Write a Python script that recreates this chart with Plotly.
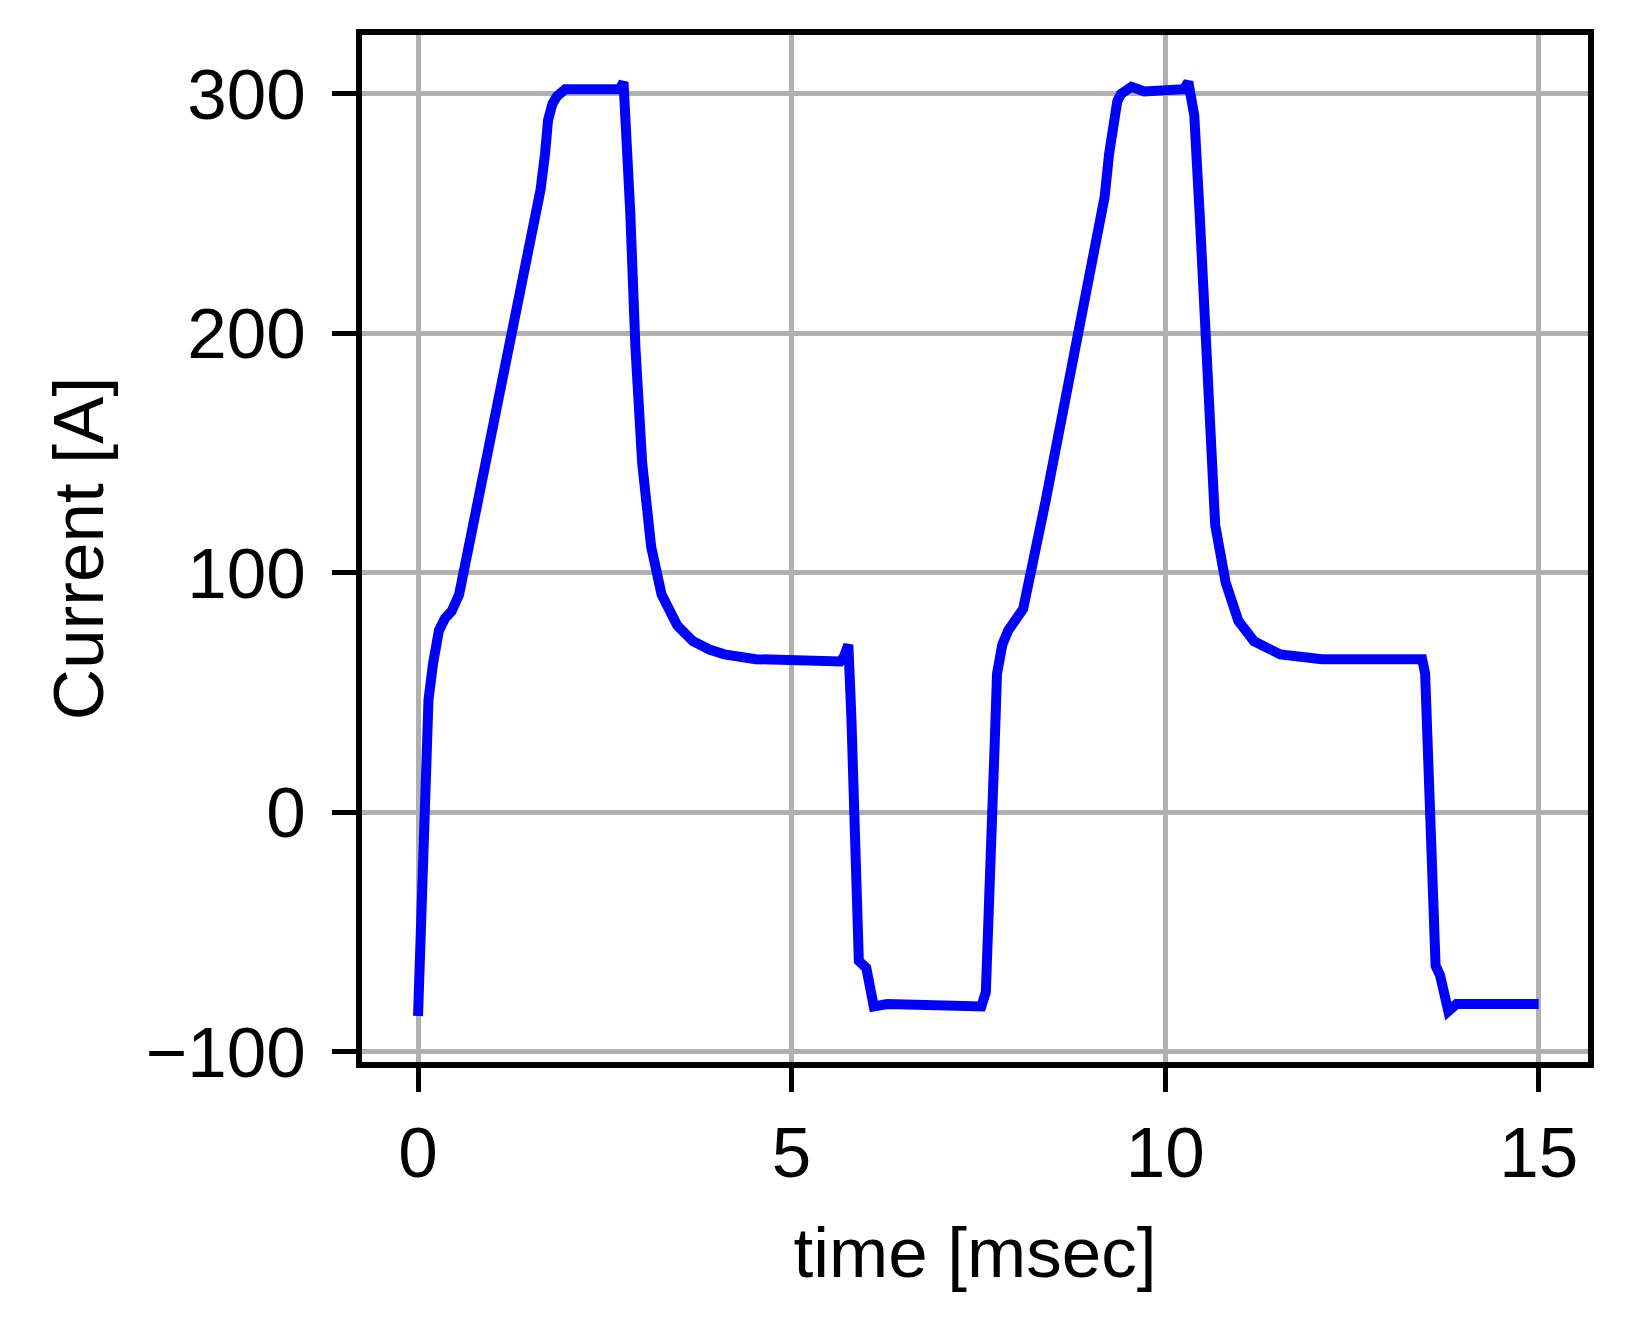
import plotly.graph_objects as go

# time [msec] and current [A]
time_ms = [
    0.00, 0.05, 0.10, 0.14, 0.20, 0.28, 0.36, 0.45, 0.55, 0.80, 1.10, 1.40, 1.64,
    1.70, 1.74, 1.80, 1.86, 1.97, 2.20, 2.45, 2.65, 2.70, 2.75, 2.80, 2.84, 2.91,
    3.00, 3.12, 3.26, 3.47, 3.68, 3.90, 4.10, 4.52, 5.00, 5.50, 5.65, 5.70, 5.76,
    5.80, 5.84, 5.90, 6.00, 6.10, 6.28, 6.80, 7.30, 7.54, 7.60, 7.65, 7.68, 7.72,
    7.75, 7.82, 7.90, 8.00, 8.10, 8.40, 8.80, 9.19, 9.25, 9.30, 9.36, 9.41, 9.55,
    9.72, 10.00, 10.25, 10.31, 10.35, 10.39, 10.46, 10.56, 10.67, 10.81, 10.98,
    11.19, 11.54, 12.10, 12.80, 13.44, 13.48, 13.51, 13.54, 13.58, 13.62, 13.68,
    13.79, 13.90, 14.40, 15.00,
]
current_a = [
    -85, -40, 10, 47, 62, 76, 81, 84, 91, 130, 178, 225, 260,
    275, 289, 296, 299, 302, 302, 302, 301, 302, 305, 280, 251, 194,
    146, 111, 91, 78, 71.5, 68, 66, 64, 64, 64, 63, 65, 70,
    40, -10, -62, -65, -81, -80, -80, -80, -81, -75, -40, -12, 30,
    58, 70, 76, 80, 85, 130, 195, 257, 275, 289, 297, 300, 303,
    301, 302, 302, 305, 300, 291, 251, 177, 120, 96, 80,
    71.5, 66, 64, 64, 64, 58, 25, -12, -45, -64, -68,
    -83, -80, -80, -80,
]

x_ticks = [0, 5, 10, 15]
y_ticks = [-100, 0, 100, 200, 300]

fig = go.Figure()

fig.add_trace(
    go.Scatter(
        x=time_ms,
        y=current_a,
        mode="lines",
        line=dict(color="#0000ff", width=10),
        showlegend=False,
    )
)

axis_style = dict(
    showline=True,
    linecolor="black",
    linewidth=6,
    mirror=True,
    ticks="outside",
    ticklen=24,
    tickwidth=5,
    tickcolor="black",
    showgrid=True,
    gridcolor="#b0b0b0",
    gridwidth=5,
    zeroline=False,
    tickfont=dict(size=71, color="black"),
)

fig.update_layout(
    width=1647,
    height=1318,
    plot_bgcolor="white",
    paper_bgcolor="white",
    # page body adds an 8px offset, so margins are shifted to compensate
    margin=dict(l=354, r=67, t=27, b=264),
    font=dict(family="Liberation Sans, Arial, sans-serif", color="black"),
    xaxis=dict(
        **axis_style,
        range=[-0.75, 15.66],
        tickvals=x_ticks,
        title=dict(text="time [msec]", font=dict(size=71), standoff=38),
    ),
    yaxis=dict(
        **axis_style,
        range=[-104.2, 324.6],
        tickvals=y_ticks,
        ticklabelstandoff=12,
        title=dict(text="Current [A]", font=dict(size=71), standoff=21),
    ),
)

fig.write_html("out.html")
